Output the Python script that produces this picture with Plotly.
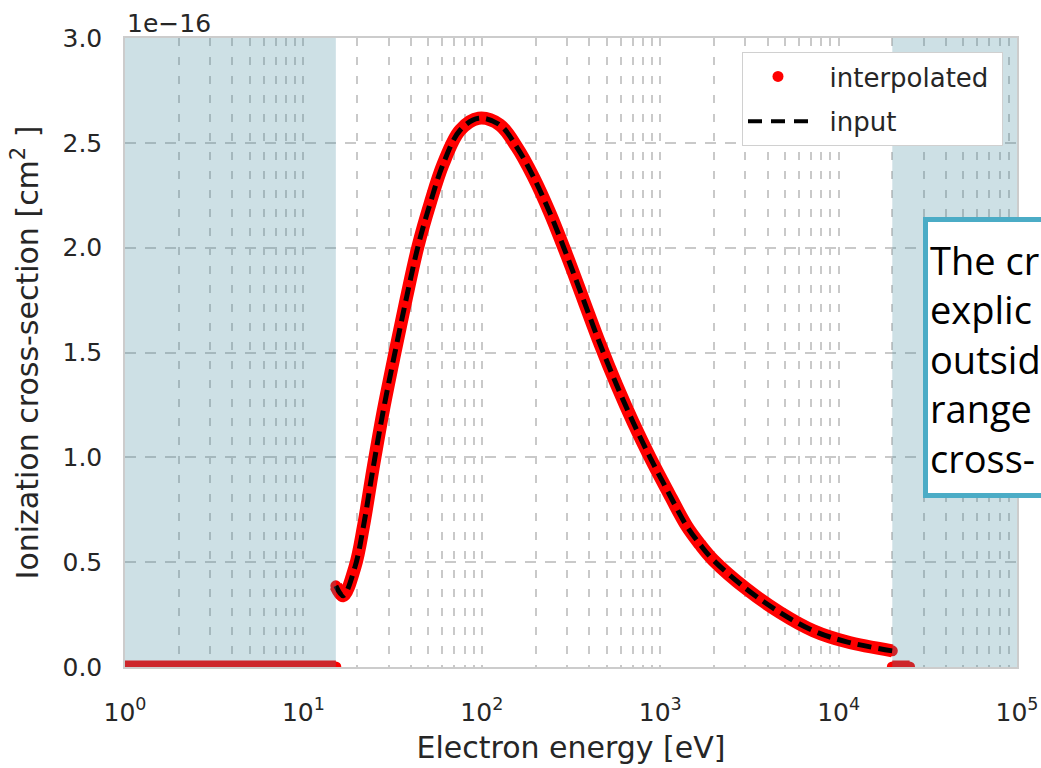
import plotly.graph_objects as go

# ---- data ----
energy_ev = [15.2, 16.7, 19.5, 21.7, 24.6, 28.0, 32.6, 37.9, 44.0, 51.3, 60.8, 75.5,
             96.0, 126, 157, 194, 241, 299, 371, 460, 570, 707, 877, 1087, 1406,
             1671, 1985, 3055, 4695, 7215, 11100, 20000]
cross_section_cm2 = [0.387e-16, 0.340e-16, 0.48e-16, 0.67e-16, 0.95e-16, 1.22e-16, 1.50e-16,
                     1.765e-16, 2.01e-16, 2.21e-16, 2.40e-16, 2.56e-16, 2.617e-16, 2.586e-16,
                     2.48e-16, 2.34e-16, 2.165e-16, 1.965e-16, 1.752e-16, 1.54e-16, 1.345e-16,
                     1.165e-16, 1.00e-16, 0.848e-16, 0.673e-16, 0.585e-16, 0.51e-16,
                     0.371e-16, 0.26e-16, 0.173e-16, 0.12e-16, 0.077e-16]
low_zero_energy_ev = [1.0, 15.2]
high_zero_energy_ev = [20000, 25000]
zero_cross_section = [0.0, 0.0]

shaded_low_ev = (1.0, 15.2)
shaded_high_ev = (20000, 100000)

x_tick_vals = [1, 10, 100, 1000, 10000, 100000]
x_tick_text = ["10<sup>0</sup>", "10<sup>1</sup>", "10<sup>2</sup>", "10<sup>3</sup>",
               "10<sup>4</sup>", "10<sup>5</sup>"]
y_tick_vals = [0, 0.5e-16, 1.0e-16, 1.5e-16, 2.0e-16, 2.5e-16, 3.0e-16]
y_tick_text = ["0.0", "0.5", "1.0", "1.5", "2.0", "2.5", "3.0"]
x_minor_vals = [m * 10 ** d for d in range(5) for m in range(2, 10)]

# visible part of the (cropped) note box
note_lines = ["The cr", "explic", "outsid", "range", "cross-"]

FONT = "DejaVu Sans"
TXT = "#262626"
GRID = "#c9c9c9"
RED = "#ff0000"
NBSP = "\u00a0"

# plot-area pixel geometry helpers (layout only)
L, R, T, B = 125, 24, 38, 101
W, H = 1041, 768
PW, PH = W - L - R, H - T - B


def px_x(p):
    return (p - L) / PW


def px_y(p):
    return (H - B - p) / PH


fig = go.Figure()

# interpolated (red, thick)
for xs, ys in [(low_zero_energy_ev, zero_cross_section),
               (energy_ev, cross_section_cm2),
               (high_zero_energy_ev, zero_cross_section)]:
    fig.add_trace(go.Scatter(x=xs, y=ys, mode="lines+markers",
                             line=dict(color=RED, width=13, shape="spline", smoothing=1.0),
                             marker=dict(color=RED, size=11),
                             showlegend=False, hoverinfo="skip"))
# input (black dashed)
fig.add_trace(go.Scatter(x=energy_ev, y=cross_section_cm2, mode="lines",
                         line=dict(color="black", width=5, dash="14px,7px",
                                   shape="spline", smoothing=1.0),
                         showlegend=False, hoverinfo="skip"))

# legend entries
fig.add_trace(go.Scatter(x=[None], y=[None], mode="markers",
                         name=NBSP * 2 + "interpolated" + NBSP,
                         marker=dict(color=RED, size=11), legendgroup="a"))
fig.add_trace(go.Scatter(x=[None], y=[None], mode="lines", name=NBSP * 2 + "input",
                         line=dict(color="black", width=4, dash="14px,9px"), legendgroup="b"))

# shaded regions outside the input range
for lo, hi in [shaded_low_ev, shaded_high_ev]:
    fig.add_shape(type="rect", xref="x", yref="paper", x0=lo, x1=hi, y0=0, y1=1,
                  fillcolor="rgba(70,140,160,0.27)", line=dict(width=0), layer="above")

# note box (cropped by the right edge of the picture)
fig.add_shape(type="rect", xref="paper", yref="paper",
              x0=px_x(925.5), x1=px_x(1100), y0=px_y(495.5), y1=px_y(219.5),
              fillcolor="white", line=dict(color="#4BACC6", width=5), layer="above")
fig.add_annotation(text="<br>".join(note_lines), xref="paper", yref="paper",
                   x=px_x(929), y=px_y(233), xanchor="left", yanchor="top",
                   showarrow=False, align="left", borderpad=0,
                   font=dict(family="Open Sans", size=38, color="black"))

fig.add_annotation(text="1e\u221216", xref="paper", yref="paper", x=0, y=1,
                   xanchor="left", yanchor="bottom", showarrow=False,
                   font=dict(family=FONT, size=25, color=TXT), yshift=-2)

fig.update_layout(
    width=W, height=H,
    margin=dict(l=L, r=R, t=T, b=B),
    paper_bgcolor="white", plot_bgcolor="white",
    font=dict(family=FONT, color=TXT),
    legend=dict(x=px_x(1003), y=px_y(52), xanchor="right", yanchor="top",
                bgcolor="white", bordercolor="#d0d0d0", borderwidth=1,
                font=dict(family=FONT, size=26, color=TXT),
                traceorder="grouped", tracegroupgap=8, itemwidth=60),
    xaxis=dict(type="log", range=[0, 5], tickmode="array", tickvals=x_tick_vals,
               ticktext=x_tick_text, tickfont=dict(size=25, color=TXT), automargin=False,
               showgrid=True, gridcolor=GRID, gridwidth=1.5, griddash="8px,11px",
               minor=dict(tickmode="array", tickvals=x_minor_vals, showgrid=True,
                          gridcolor=GRID, gridwidth=1.5, griddash="8px,11px", ticks=""),
               showline=True, linecolor="#cccccc", linewidth=1.5, mirror=True,
               zeroline=False, ticks="", ticklabelstandoff=22,
               title=dict(text="Electron energy [eV]", font=dict(size=30, color=TXT),
                          standoff=11)),
    yaxis=dict(range=[0, 3e-16], tickmode="array", tickvals=y_tick_vals, ticktext=y_tick_text,
               tickfont=dict(size=25, color=TXT), automargin=False,
               showgrid=True, gridcolor=GRID, gridwidth=1.5, griddash="11px,9px",
               showline=True, linecolor="#cccccc", linewidth=1.5, mirror=True,
               zeroline=False, ticks="", ticklabelstandoff=16,
               title=dict(text="Ionization cross-section [cm<sup>2</sup> ]",
                          font=dict(size=30, color=TXT), standoff=15)),
)

fig.write_html("out.html")
